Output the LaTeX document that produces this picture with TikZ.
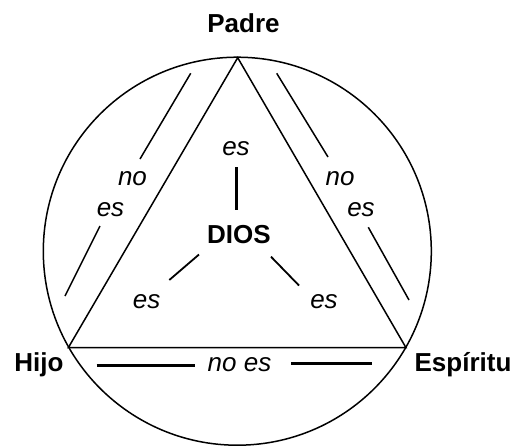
\documentclass[tikz,border=0pt]{standalone}
\usepackage{fontspec}
\setmainfont{Liberation Sans}
\begin{document}
\begin{tikzpicture}[x=1pt,y=-1pt,
  lbl/.style={inner sep=0pt,anchor=base,font=\fontsize{26}{30}\selectfont},
  person/.style={lbl,font=\fontsize{26}{30}\selectfont\bfseries},
  rel/.style={lbl,font=\fontsize{26}{30}\selectfont\itshape},
  thinln/.style={line width=1.5pt},
  thickln/.style={line width=3pt},
  midln/.style={line width=1.8pt}]
\useasboundingbox (0,0) rectangle (516,445);
% triangle vertices and circle
\coordinate (P) at (237.7,57.7);
\coordinate (H) at (68.3,347.7);
\coordinate (E) at (406,347.7);
\coordinate (C) at (237.3,251.2);
\draw[thinln] (C) circle (194);
\draw[thinln,line join=miter] (P) -- (H) -- (E) -- cycle;
% labels
\node[person] (padre) at (243.5,32.3) {Padre};
\node[person] (hijo) at (39,371.7) {Hijo};
\node[person] (esp) at (463,371.7) {Espíritu};
\node[person] (dios) at (239,243.3) {DIOS};
\node[rel] (esT) at (236,155) {es};
\node[rel] (esL) at (146.7,308.5) {es};
\node[rel] (esR) at (324,308.5) {es};
\node[rel] (noL) at (132.5,185.5) {no};
\node[rel] (nesL) at (110.5,216) {es};
\node[rel] (noR) at (340,185.5) {no};
\node[rel] (nesR) at (361,216) {es};
\node[rel] (noesB) at (239.5,371) {no es};
% connector end points
\coordinate (v1) at (236.7,167.3); \coordinate (v2) at (236.7,210);
\coordinate (dl1) at (199,254.5); \coordinate (dl2) at (169.3,280);
\coordinate (dr1) at (271,256.7); \coordinate (dr2) at (299,285.5);
\coordinate (ul1) at (190.7,73.3); \coordinate (ul2) at (140,159);
\coordinate (ll1) at (100,226); \coordinate (ll2) at (65,296);
\coordinate (ur1) at (276.7,73.3); \coordinate (ur2) at (328,157);
\coordinate (lr1) at (368.3,227.3); \coordinate (lr2) at (409,300);
\coordinate (bl1) at (96.7,365); \coordinate (bl2) at (195,365);
\coordinate (br1) at (291,363.3); \coordinate (br2) at (371.7,363.3);
% connectors
\draw[thickln] (v1) -- (v2);
\draw[midln] (dl1) -- (dl2);
\draw[midln] (dr1) -- (dr2);
\draw[thinln] (ul1) -- (ul2);
\draw[thinln] (ll1) -- (ll2);
\draw[thinln] (ur1) -- (ur2);
\draw[thinln] (lr1) -- (lr2);
\draw[thickln] (bl1) -- (bl2);
\draw[thickln] (br1) -- (br2);
\end{tikzpicture}
\end{document}
